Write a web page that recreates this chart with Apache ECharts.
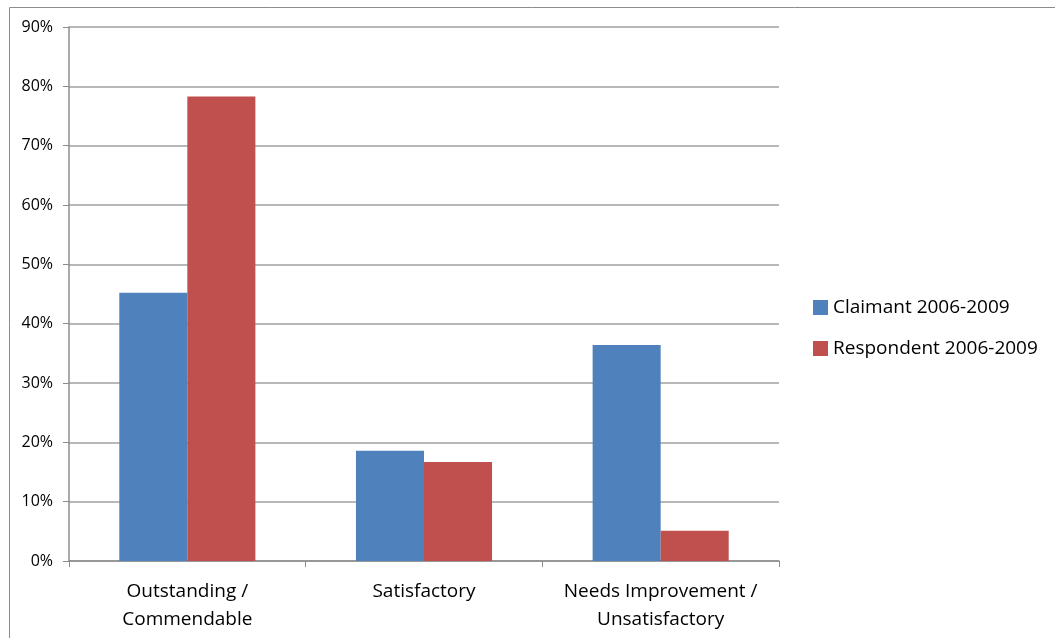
<!DOCTYPE html>
<html lang="en">
<head>
    <meta charset="UTF-8">
    <title>Ratings Chart</title>
    <script src="https://cdn.jsdelivr.net/npm/echarts@6/dist/echarts.min.js"></script>
    <style>
        body { margin: 0; background: #fff; }
    </style>
</head>
<body>
    <div id="chart" style="width: 1055px; height: 638px"></div>
    <script>
        var categories = ['Outstanding /\nCommendable', 'Satisfactory', 'Needs Improvement /\nUnsatisfactory'];
        var claimant = [45.2, 18.6, 36.4];
        var respondent = [78.3, 16.7, 5.1];
        var seriesNames = ['Claimant 2006-2009', 'Respondent 2006-2009'];

        var chart = echarts.init(document.getElementById('chart'));
        var font = 'Open Sans, sans-serif';

        var option = {
            animation: false,
            color: ['#4f81bd', '#c0504d'],
            graphic: [{
                type: 'polyline',
                shape: { points: [[9.5, 700], [9.5, 7.5], [1100, 7.5]] },
                style: { stroke: '#8c8c8c', lineWidth: 1, fill: null },
                silent: true
            }],
            legend: {
                orient: 'vertical',
                left: 808,
                top: 293,
                itemWidth: 15,
                itemHeight: 15,
                itemGap: 22,
                icon: 'rect',
                textStyle: { fontFamily: font, fontSize: 19, color: '#000' },
                data: seriesNames
            },
            grid: {
                left: 69,
                top: 27,
                width: 710,
                height: 534
            },
            xAxis: {
                type: 'category',
                data: categories,
                axisLine: { lineStyle: { color: '#8c8c8c', width: 1.5 } },
                axisTick: { show: true, length: 6, alignWithLabel: false, lineStyle: { color: '#8c8c8c' } },
                axisLabel: {
                    fontFamily: font, fontSize: 19, color: '#000',
                    lineHeight: 28, margin: 17, interval: 0
                }
            },
            yAxis: {
                type: 'value',
                min: 0,
                max: 90,
                interval: 10,
                axisLine: { show: true, lineStyle: { color: '#8c8c8c', width: 1.5 } },
                axisTick: { show: true, length: 6, lineStyle: { color: '#8c8c8c' } },
                splitLine: { lineStyle: { color: '#a0a0a0', width: 1.5 } },
                axisLabel: {
                    fontFamily: font, fontSize: 16, color: '#000', margin: 16,
                    formatter: '{value}%'
                }
            },
            series: [{
                name: seriesNames[0],
                type: 'bar',
                data: claimant,
                barGap: '0%',
                barCategoryGap: '42.5%'
            }, {
                name: seriesNames[1],
                type: 'bar',
                data: respondent,
                barGap: '0%',
                barCategoryGap: '42.5%'
            }]
        };

        chart.setOption(option);
    </script>
</body>
</html>
